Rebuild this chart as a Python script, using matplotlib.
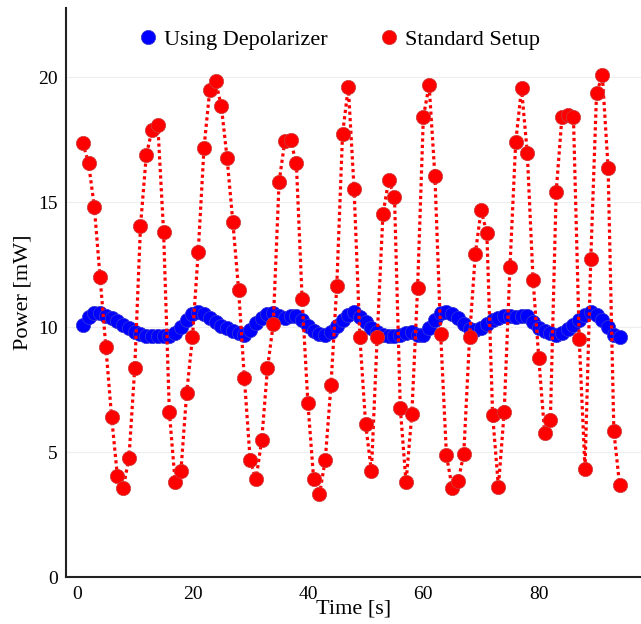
import numpy as np
import matplotlib
matplotlib.use('Agg')
import matplotlib.pyplot as plt

plt.rcParams['font.family'] = ['Liberation Serif', 'DejaVu Serif']

# time axis (s)
time_s = list(range(1, 95))

# power readings with depolarizer (mW)
depolarizer = [
    10.08, 10.4, 10.55, 10.55, 10.45, 10.35, 10.25, 10.1, 9.95, 9.8,
    9.72, 9.66, 9.65, 9.65, 9.66, 9.66, 9.78, 10.0, 10.3, 10.52,
    10.6, 10.52, 10.38, 10.22, 10.06, 9.96, 9.86, 9.75, 9.7, 9.9,
    10.15, 10.38, 10.52, 10.56, 10.45, 10.36, 10.46, 10.45, 10.3, 10.05,
    9.85, 9.72, 9.68, 9.8, 10.05, 10.3, 10.5, 10.6, 10.42, 10.2,
    9.98, 9.8, 9.68, 9.66, 9.66, 9.7, 9.78, 9.8, 9.7, 9.7,
    9.95, 10.3, 10.55, 10.6, 10.52, 10.36, 10.12, 9.92, 9.88, 9.96,
    10.12, 10.28, 10.38, 10.46, 10.45, 10.4, 10.44, 10.46, 10.2, 9.98,
    9.85, 9.75, 9.68, 9.78, 9.92, 10.1, 10.28, 10.48, 10.6, 10.5,
    10.3, 10.0, 9.7, 9.62,
]

# power readings, standard setup (mW)
standard = [
    17.37, 16.56, 14.81, 11.99, 9.21, 6.4, 4.04, 3.57, 4.76, 8.36,
    14.04, 16.87, 17.9, 18.09, 13.81, 6.61, 3.81, 4.24, 7.37, 9.59,
    13.01, 17.16, 19.5, 19.84, 18.85, 16.76, 14.2, 11.48, 7.95, 4.67,
    3.91, 5.48, 8.37, 10.13, 15.79, 17.44, 17.47, 16.55, 11.12, 6.96,
    3.91, 3.31, 4.68, 7.69, 11.65, 17.72, 19.61, 15.52, 9.61, 6.12,
    4.24, 9.59, 14.53, 15.88, 15.2, 6.77, 3.79, 6.51, 11.56, 18.41,
    19.67, 16.05, 9.72, 4.87, 3.57, 3.83, 4.92, 9.59, 12.93, 14.68,
    13.75, 6.49, 3.6, 6.61, 12.41, 17.41, 19.55, 16.97, 11.9, 8.75,
    5.77, 6.27, 15.39, 18.39, 18.48, 18.39, 9.52, 4.31, 12.71, 19.35,
    20.08, 16.37, 5.84, 3.67,
]

fig = plt.figure(figsize=(6.41, 6.24), dpi=100)
ax = fig.add_axes([0.103, 0.075, 0.897, 0.912])

ax.plot(time_s, depolarizer, linestyle='none', marker='o', markersize=10.3,
        color='#0000ff', markeredgecolor='#3a3ad0', markeredgewidth=0.5,
        label='Using Depolarizer', zorder=3)
ax.plot(time_s, standard, linestyle=(0, (1, 1)), linewidth=2.3,
        dash_capstyle='butt', color='#ff0000', zorder=4)
ax.plot(time_s, standard, linestyle='none', marker='o', markersize=10.3,
        color='#ff0000', markeredgecolor='#c84040', markeredgewidth=0.5,
        label='Standard Setup', zorder=5)

ax.set_xlim(-1.9, 97.7)
ax.set_ylim(0, 22.76)
ax.set_xticks([0, 20, 40, 60, 80])
ax.set_yticks([0, 5, 10, 15, 20])
ax.tick_params(length=0, labelsize=14, pad=6)
ax.grid(axis='y', color='#eeeeee', linewidth=0.8)
ax.set_axisbelow(True)

for side in ['top', 'right']:
    ax.spines[side].set_visible(False)
for side in ['left', 'bottom']:
    ax.spines[side].set_linewidth(1.5)
    ax.spines[side].set_color('#222222')

ax.set_xlabel('Time [s]', fontsize=16, labelpad=-2)
ax.set_ylabel('Power [mW]', fontsize=16, labelpad=4)

ax.legend(loc='center', bbox_to_anchor=(0.528, 0.936), bbox_transform=fig.transFigure,
          ncol=2, frameon=False, fontsize=16, handletextpad=0.2,
          columnspacing=2.3, markerscale=1.0, handlelength=1.0)

fig.savefig('out.png', dpi=100)
